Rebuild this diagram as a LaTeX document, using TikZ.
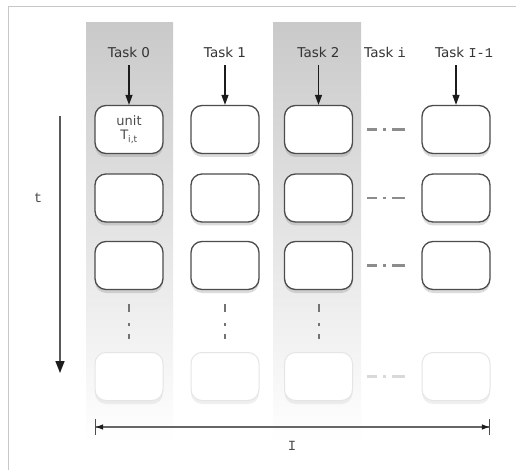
\documentclass[tikz,border=0pt]{standalone}
\usepackage{fontspec}
\setmainfont{DejaVu Sans}
\newfontfamily\monof{Liberation Mono}
\usetikzlibrary{arrows.meta,shadows}
\definecolor{arrowdark}{RGB}{28,28,28}
\begin{document}
\begin{tikzpicture}[x=1pt,y=-1pt,
  unitbox/.style={draw=black!70, line width=1.3pt, rounded corners=11pt, fill=white,
    minimum width=68pt, minimum height=48pt, inner sep=0pt,
    drop shadow={opacity=0.28, shadow xshift=0pt, shadow yshift=-3.5pt}},
  fadebox/.style={draw=black!10, line width=1pt, rounded corners=11pt, fill=white,
    minimum width=68pt, minimum height=48pt, inner sep=0pt,
    drop shadow={opacity=0.12, shadow xshift=0pt, shadow yshift=-3.5pt}},
  tasklbl/.style={font=\fontsize{13.5}{16}\selectfont, text=black!80, inner sep=1pt},
  taskline/.style={draw=arrowdark, line width=1.2pt},
  taskarr/.style={draw=arrowdark, line width=1.2pt, -{Triangle[length=10pt,width=7pt,color=arrowdark]}},
  colshade/.style={top color=black!21, bottom color=white, draw=none},
  hdots/.style={black!45, line width=2.2pt, dash pattern=on 10pt off 6pt on 3pt off 6pt on 13pt},
  vdots/.style={black!55, line width=2pt, dash pattern=on 8pt off 11pt on 3pt off 8pt on 8pt},
  monolbl/.style={font=\monof\fontsize{14}{16}\selectfont, text=black!70}
]
\useasboundingbox (0,0) rectangle (516,470);
\fill[white] (0,0) rectangle (516,470);
% frame
\draw[black!22, line width=1pt] (8,470) -- (8,7) -- (516,7);
% shaded columns
\shade[colshade] (86,23) rectangle (173,442);
\shade[colshade] (273,23) rectangle (361,442);

% boxes
\foreach \c/\x in {0/129,1/225,2/318.5,3/456}{
  \foreach \r/\y in {0/129.5,1/198,2/265.5}{
    \node[unitbox] (b\c\r) at (\x,\y) {};
  }
  \node[fadebox] (b\c3) at (\x,376.5) {};
}
\node[font=\fontsize{13}{15}\selectfont, text=black!70, align=center] (unitlbl) at (b00) {unit\\[-1pt]T\textsubscript{i,t}};

% horizontal dots
\foreach \r in {0,1,2}{
  \draw[hdots] ([xshift=14pt]b2\r.east) -- ([xshift=-16pt]b3\r.west);
}
\draw[hdots, black!15] ([xshift=14pt]b23.east) -- ([xshift=-16pt]b33.west);

% vertical dots
\foreach \c in {0,1,2}{
  \draw[vdots] ([yshift=-14pt]b\c2.south) -- ([yshift=13pt]b\c3.north);
}

% time arrow
\coordinate (ts) at (60,116);
\coordinate (te) at (60,373);
\draw[black!65, line width=1.6pt, -{Triangle[length=12pt,width=9pt,color=arrowdark]}] (ts) -- (te);
\node[monolbl] (tlbl) at (38,198) {t};

% dimension arrow
\coordinate (ds) at (95,427);
\coordinate (de) at (490,427);
\draw[black!60, line width=1.2pt, {Bar[width=16pt,color=black!70]Triangle[length=7pt,width=5pt,color=arrowdark]}-{Triangle[length=7pt,width=5pt,color=arrowdark]Bar[width=16pt,color=black!70]}] (ds) -- (de);
\node[monolbl] (ilbl) at (292,446) {I};

% task labels
\node[tasklbl] (taskA) at (129,52) {Task 0};
\node[tasklbl] (taskB) at (225,52) {Task 1};
\node[tasklbl] (taskC) at (318.5,52) {Task 2};
\node[tasklbl] (taskI) at (385,52) {Task {\monof i}};
\node[tasklbl] (taskL) at (464,52) {Task {\monof I-1}};
\coordinate (taskLx) at (456,52);

% task arrows
\draw[taskarr, shorten <=7pt] (taskB.south) -- (b10.north);
\draw[taskarr, shorten <=7pt] (taskC.south) -- (b20.north);
\draw[taskarr, shorten <=7pt] (taskLx |- taskL.south) -- (b30.north);
\draw[taskline, shorten <=7pt, shorten >=6pt] (taskA.south) -- (b00.north);
\draw[taskarr, shorten <=7pt] (taskA.south) -- (b00.north);
\end{tikzpicture}
\end{document}
